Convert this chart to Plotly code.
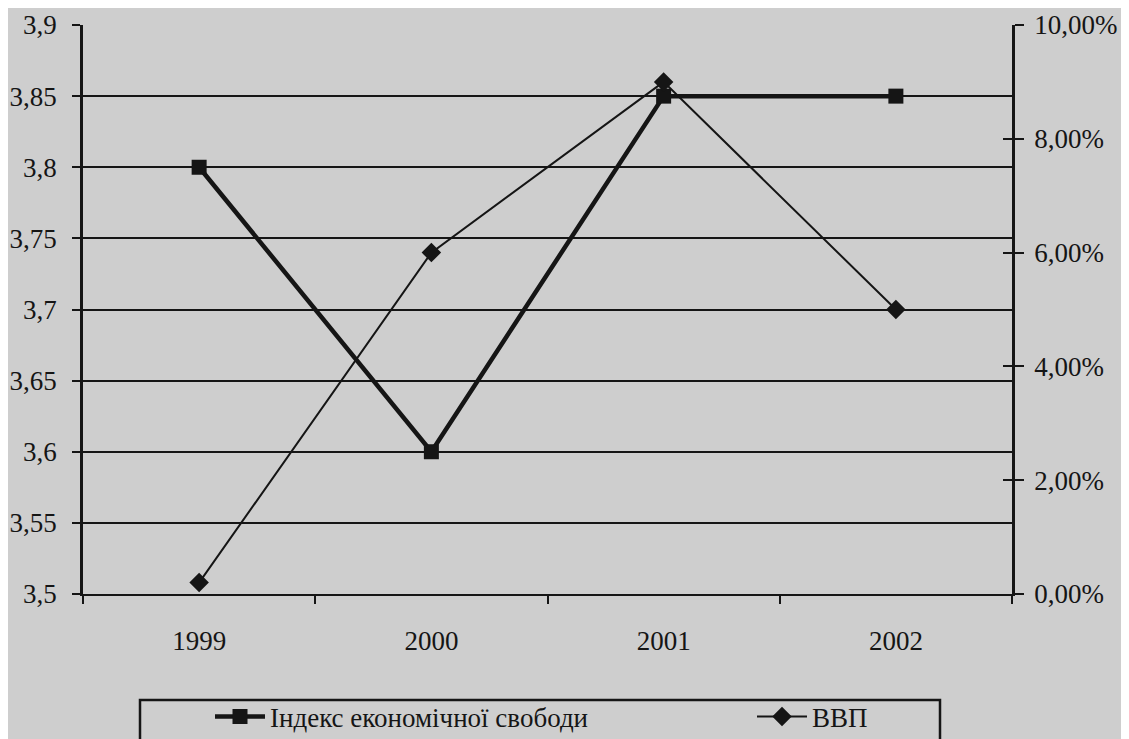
import plotly.graph_objects as go

years = ["1999", "2000", "2001", "2002"]
freedom_index = [3.8, 3.6, 3.85, 3.85]
gdp_pct = [0.2, 6.0, 9.0, 5.0]

left_ticks = [3.5, 3.55, 3.6, 3.65, 3.7, 3.75, 3.8, 3.85, 3.9]
right_ticks = [0, 2, 4, 6, 8, 10]
right_labels = [f"{v:.2f}%".replace(".", ",") for v in right_ticks]

INK = "#151515"
BG = "#cecece"
FONT = "Liberation Serif"
FS = 27

# page has an 8px body margin; plot area should sit at x 83..1012, y 25..594
ML, MT = 75, 17
MR, MB = 125, 153
PW = 1129 - ML - MR
PH = 739 - MT - MB
OFFX, OFFY = 8 + ML, 8 + MT


def px_x(p):
    return (p - OFFX) / PW


def px_y(p):
    return 1 - (p - OFFY) / PH


fig = go.Figure()
fig.add_trace(go.Scatter(
    x=years, y=freedom_index, name="Індекс економічної свободи",
    mode="lines+markers", line=dict(color=INK, width=4.5),
    marker=dict(symbol="square", size=15, color=INK),
    xaxis="x", yaxis="y", legend="legend"))
fig.add_trace(go.Scatter(
    x=years, y=gdp_pct, name="ВВП",
    mode="lines+markers", line=dict(color=INK, width=2),
    marker=dict(symbol="diamond", size=15, color=INK),
    xaxis="x", yaxis="y2", legend="legend2"))
# invisible trace that activates the inner tick marks on the right axis
fig.add_trace(go.Scatter(x=[years[0]], y=[right_ticks[0]], yaxis="y3",
                         showlegend=False, hoverinfo="skip", mode="markers",
                         marker=dict(opacity=0)))

legend_common = dict(orientation="h", xanchor="left", yanchor="middle",
                     bgcolor="rgba(0,0,0,0)", borderwidth=0, itemwidth=50,
                     font=dict(family=FONT, size=FS, color=INK))

fig.update_layout(
    width=1129, height=739,
    paper_bgcolor=BG, plot_bgcolor=BG,
    separators=", ",
    font=dict(family=FONT, size=FS, color=INK),
    margin=dict(l=ML, r=MR, t=MT, b=MB, autoexpand=False),
    showlegend=True,
    legend=dict(x=px_x(210), y=px_y(717), **legend_common),
    legend2=dict(x=px_x(752), y=px_y(717), **legend_common),
    xaxis=dict(type="category", range=[-0.5, 3.5], showgrid=False,
               showline=True, linecolor=INK, linewidth=2,
               ticks="outside", tickson="boundaries", ticklen=8, tickwidth=2,
               tickcolor=INK, zeroline=False, ticklabelstandoff=22,
               automargin=False),
    yaxis=dict(range=[3.5, 3.9], tickvals=left_ticks, showgrid=True,
               gridcolor=INK, gridwidth=2, showline=True, linecolor=INK,
               linewidth=2.5, ticks="outside", ticklen=8, tickwidth=2,
               tickcolor=INK, zeroline=False, ticklabelstandoff=10,
               automargin=False),
    yaxis2=dict(range=[0, 10], tickvals=right_ticks, ticktext=right_labels,
                overlaying="y", side="right", anchor="x",
                showgrid=False, showline=True, linecolor=INK, linewidth=2.5,
                ticks="outside", ticklen=9, tickwidth=2, tickcolor=INK,
                zeroline=False, ticklabelstandoff=5, automargin=False),
    yaxis3=dict(range=[0, 10], tickvals=right_ticks, overlaying="y", side="right",
                anchor="x", showgrid=False, showline=False, showticklabels=False,
                ticks="inside", ticklen=9, tickwidth=2, tickcolor=INK,
                zeroline=False, automargin=False),
)

fig.add_shape(type="rect", xref="paper", yref="paper",
              x0=px_x(140), x1=px_x(940), y0=px_y(760), y1=px_y(700),
              line=dict(color=INK, width=2.5), fillcolor="rgba(0,0,0,0)")

fig.write_html("out.html")
